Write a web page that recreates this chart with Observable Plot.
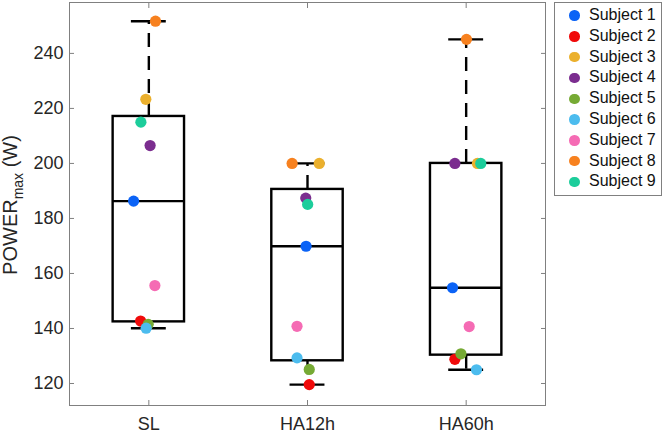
<!DOCTYPE html>
<html>
<head>
<meta charset="utf-8">
<script src="https://cdn.jsdelivr.net/npm/d3@7"></script>
<script src="https://cdn.jsdelivr.net/npm/@observablehq/plot@0.6"></script>
<style>
  body { margin: 0; background: #fff; }
  #wrap { position: relative; width: 664px; height: 436px; font-family: "Liberation Sans", Arial, sans-serif; }
  #legend { position: absolute; left: 554px; top: 2px; width: 108px; box-sizing: border-box;
            border: 1px solid #808080; background: #fff; padding: 2px 0 3px 0; }
  .row { height: 20.8px; line-height: 20.8px; font-size: 16px; color: #111; white-space: nowrap; position: relative; }
  .sw { position: absolute; left: 14px; top: 5.4px; width: 10.5px; height: 10.5px; border-radius: 50%; }
  .lab { position: absolute; left: 34px; top: 0; }
</style>
</head>
<body>
<div id="wrap"></div>
<script>
// ---- data ----
const groups = ["SL", "HA12h", "HA60h"];
const subjects = ["Subject 1","Subject 2","Subject 3","Subject 4","Subject 5","Subject 6","Subject 7","Subject 8","Subject 9"];
const colors = ["#0b63f6","#f00a0a","#ebb02d","#7b2d8f","#76aa34","#4cbcee","#f56bb4","#f7811f","#1ccd9b"];
const powerSL    = [186.3, 142.7, 223.3, 206.5, 141.5, 140.1, 155.6, 251.7, 215.0];
const powerHA12h = [169.9, 119.6, 200.0, 187.4, 125.1, 129.3, 140.8, 200.0, 185.1];
const powerHA60h = [154.8, 128.8, 200.0, 200.0, 130.8, 125.0, 140.7, 245.1, 200.0];
const jitterSL    = [-0.096, -0.052, -0.019, 0.008, -0.004, -0.017, 0.038, 0.042, -0.050];
const jitterHA12h = [-0.009, 0.011, 0.074, -0.011, 0.011, -0.066, -0.066, -0.097, 0.001];
const jitterHA60h = [-0.086, -0.071, 0.071, -0.071, -0.033, 0.065, 0.019, 0.002, 0.092];
const yTicks = [120, 140, 160, 180, 200, 220, 240];

const values = [powerSL, powerHA12h, powerHA60h];
const jitters = [jitterSL, jitterHA12h, jitterHA60h];

// points
const points = [];
values.forEach((vals, g) => vals.forEach((v, s) => points.push({g: g + 1, jit: jitters[g][s], value: v, subject: subjects[s]})));

// MATLAB-style percentile
function prctile(sorted, p) {
  const n = sorted.length, pos = n * p + 0.5;
  if (pos <= 1) return sorted[0];
  if (pos >= n) return sorted[n - 1];
  const lo = Math.floor(pos), f = pos - lo;
  return sorted[lo - 1] + f * (sorted[lo] - sorted[lo - 1]);
}
const stats = values.map((vals, g) => {
  const s = vals.slice().sort((a, b) => a - b);
  const q1 = prctile(s, 0.25), med = prctile(s, 0.5), q3 = prctile(s, 0.75), iqr = q3 - q1;
  const hi = d3.max(s.filter(v => v <= q3 + 1.5 * iqr));
  const lo = d3.min(s.filter(v => v >= q1 - 1.5 * iqr));
  return {i: g + 1, q1, med, q3, hi, lo};
});

const BW = 0.225, CW = 0.11, LW = 2.4;
const axisColor = "#808080";
const chart = Plot.plot({
  width: 664, height: 436,
  marginLeft: 69, marginRight: 119, marginTop: 2, marginBottom: 31,
  style: {fontFamily: "'Liberation Sans', Arial, sans-serif", fontSize: "18px", color: "#262626", background: "transparent"},
  x: {domain: [0.5, 3.5]},
  y: {domain: [112, 258.5]},
  color: {domain: subjects, range: colors},
  marks: [
    Plot.frame({stroke: axisColor}),
    Plot.axisX({ticks: [1, 2, 3], tickFormat: i => groups[i - 1], tickSize: -5, tickPadding: 17, stroke: axisColor, fill: "#262626", fontSize: 18, label: null}),
    Plot.axisX({anchor: "top", ticks: [1, 2, 3], tickFormat: () => "", tickSize: -5, stroke: axisColor, label: null}),
    Plot.axisY({ticks: yTicks, tickSize: -5, tickPadding: 11, stroke: axisColor, fill: "#262626", fontSize: 18, label: null}),
    Plot.axisY({anchor: "right", ticks: yTicks, tickFormat: () => "", tickSize: -5, stroke: axisColor, label: null}),
    Plot.ruleX(stats, {x: "i", y1: "q3", y2: "hi", stroke: "black", strokeWidth: LW, strokeDasharray: "14,9"}),
    Plot.ruleX(stats, {x: "i", y1: "q1", y2: "lo", stroke: "black", strokeWidth: LW, strokeDasharray: "14,9"}),
    Plot.ruleY(stats, {y: "hi", x1: d => d.i - CW, x2: d => d.i + CW, stroke: "black", strokeWidth: LW}),
    Plot.ruleY(stats, {y: "lo", x1: d => d.i - CW, x2: d => d.i + CW, stroke: "black", strokeWidth: LW}),
    Plot.rect(stats, {x1: d => d.i - BW, x2: d => d.i + BW, y1: "q1", y2: "q3", fill: "none", stroke: "black", strokeWidth: LW}),
    Plot.ruleY(stats, {y: "med", x1: d => d.i - BW, x2: d => d.i + BW, stroke: "black", strokeWidth: LW}),
    Plot.dot(points, {x: d => d.g + d.jit, y: "value", r: 5.6, fill: "subject", stroke: null})
  ]
});

// y-axis label with subscript
const t = d3.select(chart).append("text")
  .attr("transform", "translate(17,205) rotate(-90)")
  .attr("text-anchor", "middle")
  .attr("font-size", 20)
  .attr("fill", "#262626");
t.append("tspan").text("POWER");
t.append("tspan").attr("font-size", 14).attr("dy", 6).text("max");
t.append("tspan").attr("dy", -6).text(" (W)");

const wrap = document.getElementById("wrap");
wrap.appendChild(chart);

// legend
const leg = document.createElement("div");
leg.id = "legend";
subjects.forEach((s, k) => {
  const row = document.createElement("div");
  row.className = "row";
  const sw = document.createElement("span");
  sw.className = "sw"; sw.style.background = colors[k];
  const lab = document.createElement("span");
  lab.className = "lab"; lab.textContent = s;
  row.appendChild(sw); row.appendChild(lab);
  leg.appendChild(row);
});
wrap.appendChild(leg);
</script>
</body>
</html>
